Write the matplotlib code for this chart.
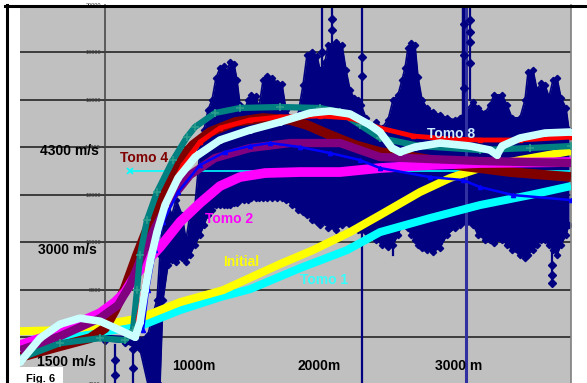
import numpy as np
import matplotlib.pyplot as plt
from matplotlib.patches import Rectangle
from matplotlib.lines import Line2D

plt.rcParams['font.family'] = ['Liberation Sans', 'DejaVu Sans']

# sonic log envelope (depth m, velocity ft/s)
log_depth = [280, 440, 560, 624, 656, 696, 720, 744, 784, 816, 848, 896, 928, 960, 1000,
             1040, 1072, 1104, 1136, 1168, 1200, 1232, 1256, 1280, 1312, 1336, 1360, 1392,
             1424, 1448, 1488, 1512, 1544, 1576, 1616, 1656, 1696, 1728, 1776, 1824, 1864,
             1896, 1936, 1976, 2000, 2040, 2064, 2128, 2176, 2208, 2240, 2272, 2304, 2328,
             2368, 2400, 2448, 2496, 2544, 2584, 2624, 2656, 2680, 2704, 2728, 2760, 2784,
             2816, 2856, 2904, 2960, 3016, 3080, 3120, 3224, 3264, 3320, 3360, 3392, 3456,
             3496, 3536, 3600, 3640, 3664, 3704, 3736, 3768, 3800, 3832, 3864, 3896, 3928,
             3968, 3992]
log_top = [6065, 6023, 5897, 6107, 6822, 7580, 9475, 11159, 11580, 11159, 11790, 11159,
           10106, 11159, 11580, 13896, 14738, 15580, 16000, 16927, 17348, 17432, 17179,
           17600, 17516, 16843, 15790, 15495, 16000, 16211, 16169, 15664, 16843, 17011,
           16927, 16716, 16674, 15580, 15159, 15369, 16632, 17895, 18021, 17853, 17263,
           17600, 18316, 18442, 18316, 17263, 16421, 16085, 16000, 15790, 15243, 14948,
           15074, 14822, 15159, 16000, 16211, 16843, 17348, 18190, 18400, 18316, 16969,
           16000, 15664, 15495, 15369, 15243, 15159, 15243, 15916, 15664, 15453, 15790,
           16211, 16211, 15790, 15243, 15243, 16000, 17179, 17263, 16421, 16716, 16632,
           16127, 16843, 16927, 16085, 15664, 14738]
log_bottom = [5854, 5770, 5476, 4000, 4000, 4000, 4000, 7580, 9054, 9264, 9180, 9349, 9180,
              9475, 9896, 10317, 10738, 11159, 11369, 11580, 11580, 11580, 11580, 11580,
              11664, 11664, 11790, 11790, 11790, 11875, 11875, 11875, 11875, 11875, 11875,
              11875, 11875, 11790, 11580, 11369, 11285, 11159, 10948, 10864, 10738, 10864,
              10612, 10527, 10738, 10864, 10738, 10612, 10527, 10527, 10443, 10317, 10106,
              9896, 9812, 9896, 10317, 10738, 10738, 10612, 10317, 10106, 9896, 9770, 9685,
              9601, 9770, 10317, 10612, 10738, 10738, 10317, 10106, 10106, 9980, 10106, 9896,
              9685, 9475, 9349, 9475, 9685, 9896, 10106, 10106, 9896, 9685, 9475, 9896,
              10317, 10738]
# isolated log spikes: depth, low, high
spike_depth = [360, 504, 2016, 2096, 2336, 3200, 3856, 2584]
spike_low = [4000, 4000, 17263, 18442, 4000, 16000, 8296, 9475]
spike_high = [5686, 6107, 20000, 20000, 20000, 20000, 9685, 9896]
bead_depth = [360, 360, 504, 504, 2016, 2096, 2096, 2336, 2336, 3200, 3200, 3200, 3200,
              3856, 3856, 3856, 3152, 3152, 3152]
bead_v = [5054, 4400, 5500, 4700, 18021, 19390, 18949, 17811, 17011, 19369, 18863, 18442,
          17558, 9054, 8633, 8296, 19200, 17900, 16500]

init_d = [-400, -80, 240, 560, 880, 1224, 1680, 1944, 2240, 2480, 2800, 3040, 3280, 3600, 4008]
init_v = [6247, 6290, 6500, 6796, 7471, 7978, 9075, 9665, 10425, 11142, 12113, 12704, 13126, 13464, 13844]

t1_d = [-80, 0, 240, 560, 880, 1200, 1440, 1840, 2216, 2480, 2880, 3280, 3680, 4008]
t1_v = [6100, 5952, 6205, 6458, 7134, 7682, 8020, 8906, 9665, 10425, 11016, 11565, 11987, 12366]

t2_d = [-400, -160, 80, 240, 360, 440, 504, 600, 720, 880, 1040, 1200, 1360, 1560, 1840,
        2160, 2480, 2880, 3280, 4008]
t2_v = [5657, 6079, 6627, 7007, 7471, 7893, 8442, 9117, 9792, 10848, 11649, 12366, 12746,
        12915, 12957, 12957, 13126, 13253, 13337, 13379]

pur_d = [-400, -80, 240, 384, 480, 584, 680, 800, 960, 1160, 1440, 1760, 2160, 2480, 2880, 3280, 4008]
pur_v = [5446, 6036, 6796, 7345, 8189, 9539, 10594, 11776, 12831, 13548, 13970, 14181,
         14181, 13590, 13506, 13422, 13337]

t4_d = [-400, -80, 160, 280, 360, 440, 536, 640, 776, 880, 984, 1120, 1320, 1544, 1760,
        1896, 2080, 2280, 2480, 2800, 3144, 3520, 4008]
t4_v = [5151, 5615, 5952, 6374, 7134, 8062, 9455, 10848, 12493, 13464, 14097, 14645, 15067,
        15236, 15152, 14941, 14519, 14097, 13801, 13548, 13210, 12957, 12746]

teal_d = [-400, -80, 240, 440, 504, 536, 560, 616, 696, 824, 936, 1000, 1160, 1360, 1680,
          2000, 2160, 2320, 2480, 2800, 3280, 3680, 4008]
teal_v = [5100, 5741, 5952, 5868, 6290, 7978, 9455, 10932, 12113, 13464, 14434, 14856,
          15447, 15658, 15700, 15658, 15489, 14941, 14392, 14054, 13886, 13970, 14054]

red_d = [544, 576, 616, 664, 720, 800, 904, 1040, 1200, 1440, 1680, 2000, 2240, 2480,
         2744, 3040, 3280, 3600, 4008]
red_v = [6712, 7556, 8822, 9877, 10932, 12113, 13253, 14223, 14814, 15152, 15278, 15320,
         15236, 14814, 14476, 14350, 14308, 14308, 14434]

blue_d = [584, 624, 680, 744, 864, 1040, 1240, 1440, 1600, 1840, 2080, 2320, 2480, 2880,
          3144, 3280, 3544, 4008]
blue_v = [6290, 7978, 9665, 10848, 12113, 13253, 13801, 14054, 14181, 14012, 13759, 13464,
          13126, 12746, 12620, 12324, 11987, 11776]

t8_d = [-400, -240, -80, 80, 240, 400, 520, 560, 600, 640, 696, 760, 864, 1000, 1200, 1440,
        1680, 1920, 2080, 2240, 2400, 2480, 2576, 2640, 2760, 2960, 3200, 3360, 3416, 3456,
        3600, 3800, 4008]
t8_v = [4940, 5952, 6543, 6796, 6669, 6290, 5995, 6627, 7978, 9159, 10425, 11565, 12704,
        13590, 14308, 14730, 15067, 15447, 15531, 15405, 14941, 14645, 13970, 13801, 14012,
        14181, 14054, 13886, 13675, 14054, 14392, 14603, 14645]

ref_start = 480
ref_v = 13000

navy = '#000080'

fig = plt.figure(figsize=(5.87, 3.83), dpi=100)
ax = fig.add_axes([20 / 587, -1.5 / 383, 551 / 587, 379.5 / 383])
ax.set_facecolor('#C0C0C0')
ax.set_xlim(-400, 4008)
ax.set_ylim(4000, 20000)

ax.set_axisbelow(True)
ax.yaxis.grid(True, color='#262626', lw=1.2)
ax.set_yticks(np.arange(4000, 20001, 2000))
ax.set_xticks([])
ax.tick_params(axis='y', length=2, width=0.6, labelsize=4, pad=1, colors='#333333')
ax.spines['left'].set_position(('data', 280))
ax.spines['left'].set_color('#404040')
ax.spines['left'].set_linewidth(1.1)
ax.spines['right'].set_color('#808080')
ax.spines['right'].set_linewidth(1.2)
ax.spines['top'].set_visible(False)
ax.spines['bottom'].set_visible(False)

# sonic log
ax.fill_between(log_depth, log_bottom, log_top, color=navy, lw=0, zorder=1)
ax.plot(log_depth, log_top, color=navy, lw=1.2, marker='D', ms=3.2, zorder=1)
ax.plot(log_depth, log_bottom, color=navy, lw=1.2, marker='D', ms=3.2, zorder=1)
for d, lo, hi in zip(spike_depth, spike_low, spike_high):
    ax.plot([d, d], [lo, hi], color=navy, lw=1.6, zorder=1)
ax.plot([3152, 3152], [15243, 20000], color=navy, lw=3.2, zorder=1)
ax.plot([3168, 3168], [4000, 20000], color='#3030A0', lw=2.2, zorder=1)
ax.plot(bead_depth, bead_v, ls='none', color=navy, marker='D', ms=3.8, zorder=1)

# velocity functions
ax.plot([ref_start, 4008], [ref_v, ref_v], color='#00FFFF', lw=1.2, zorder=2)
ax.plot([ref_start], [ref_v], color='#00FFFF', marker='x', ms=5, mew=1.2, zorder=2)
ax.plot(t1_d, t1_v, color='#00FFFF', lw=5.8, solid_capstyle='butt', zorder=3)
ax.plot(init_d, init_v, color='#FFFF00', lw=5.8, solid_capstyle='butt', zorder=3)
ax.plot(t4_d, t4_v, color='#800000', lw=7, solid_capstyle='butt', zorder=4)
ax.plot(t2_d, t2_v, color='#FF00FF', lw=7, solid_capstyle='butt', zorder=4)
ax.plot(pur_d, pur_v, color='#800080', lw=6, solid_capstyle='butt', zorder=4)
ax.plot(teal_d, teal_v, color='#008080', lw=4.5, marker='+', ms=6, mew=1.2,
        mec='#2E9E8E', solid_capstyle='butt', zorder=5)
ax.plot(red_d, red_v, color='#FF0000', lw=3.5, marker='s', ms=3.5, solid_capstyle='butt', zorder=5)
ax.plot(blue_d, blue_v, color='#0000FF', lw=1.8, marker='^', ms=3, zorder=5)
ax.plot(t8_d, t8_v, color='#CCFFFF', lw=5.5, marker='o', ms=4, solid_capstyle='butt', zorder=6)

bold = dict(fontsize=10, fontweight='bold', va='center', ha='left', zorder=8)
ax.text(-240, 13850, '4300 m/s', color='black', **bold)
ax.text(-256, 9685, '3000 m/s', color='black', **bold)
ax.text(-264, 4930, '1500 m/s', color='black', **bold)
ax.text(816, 4800, '1000m', color='black', **bold)
ax.text(1816, 4800, '2000m', color='black', **bold)
ax.text(2920, 4760, '3000 m', color='black', **bold)
ax.text(400, 13560, 'Tomo 4', color='#800000', **bold)
ax.text(1080, 10990, 'Tomo 2', color='#FF00FF', **bold)
ax.text(1224, 9180, 'Initial', color='#FFFF00', **bold)
ax.text(1840, 8420, 'Tomo 1', color='#33FFFF', **bold)
ax.text(2856, 14570, 'Tomo 8', color='#CCECFF', **bold)

# frame lines and figure tag
fig.add_artist(Line2D([6.5 / 587, 6.5 / 587], [0, 1 - 5 / 383], color='black', lw=2.2, zorder=10))
fig.add_artist(Line2D([5 / 587, 1], [1 - 6 / 383, 1 - 6 / 383], color='black', lw=2.2, zorder=10))
fig.add_artist(Rectangle((20 / 587, 0), 43 / 587, 16 / 383, transform=fig.transFigure,
                         facecolor='white', edgecolor='none', zorder=10))
fig.text(26 / 587, 0.5 / 383, 'Fig. 6', fontsize=8, fontweight='bold', va='baseline', zorder=11)

fig.savefig('out.png', dpi=100)
